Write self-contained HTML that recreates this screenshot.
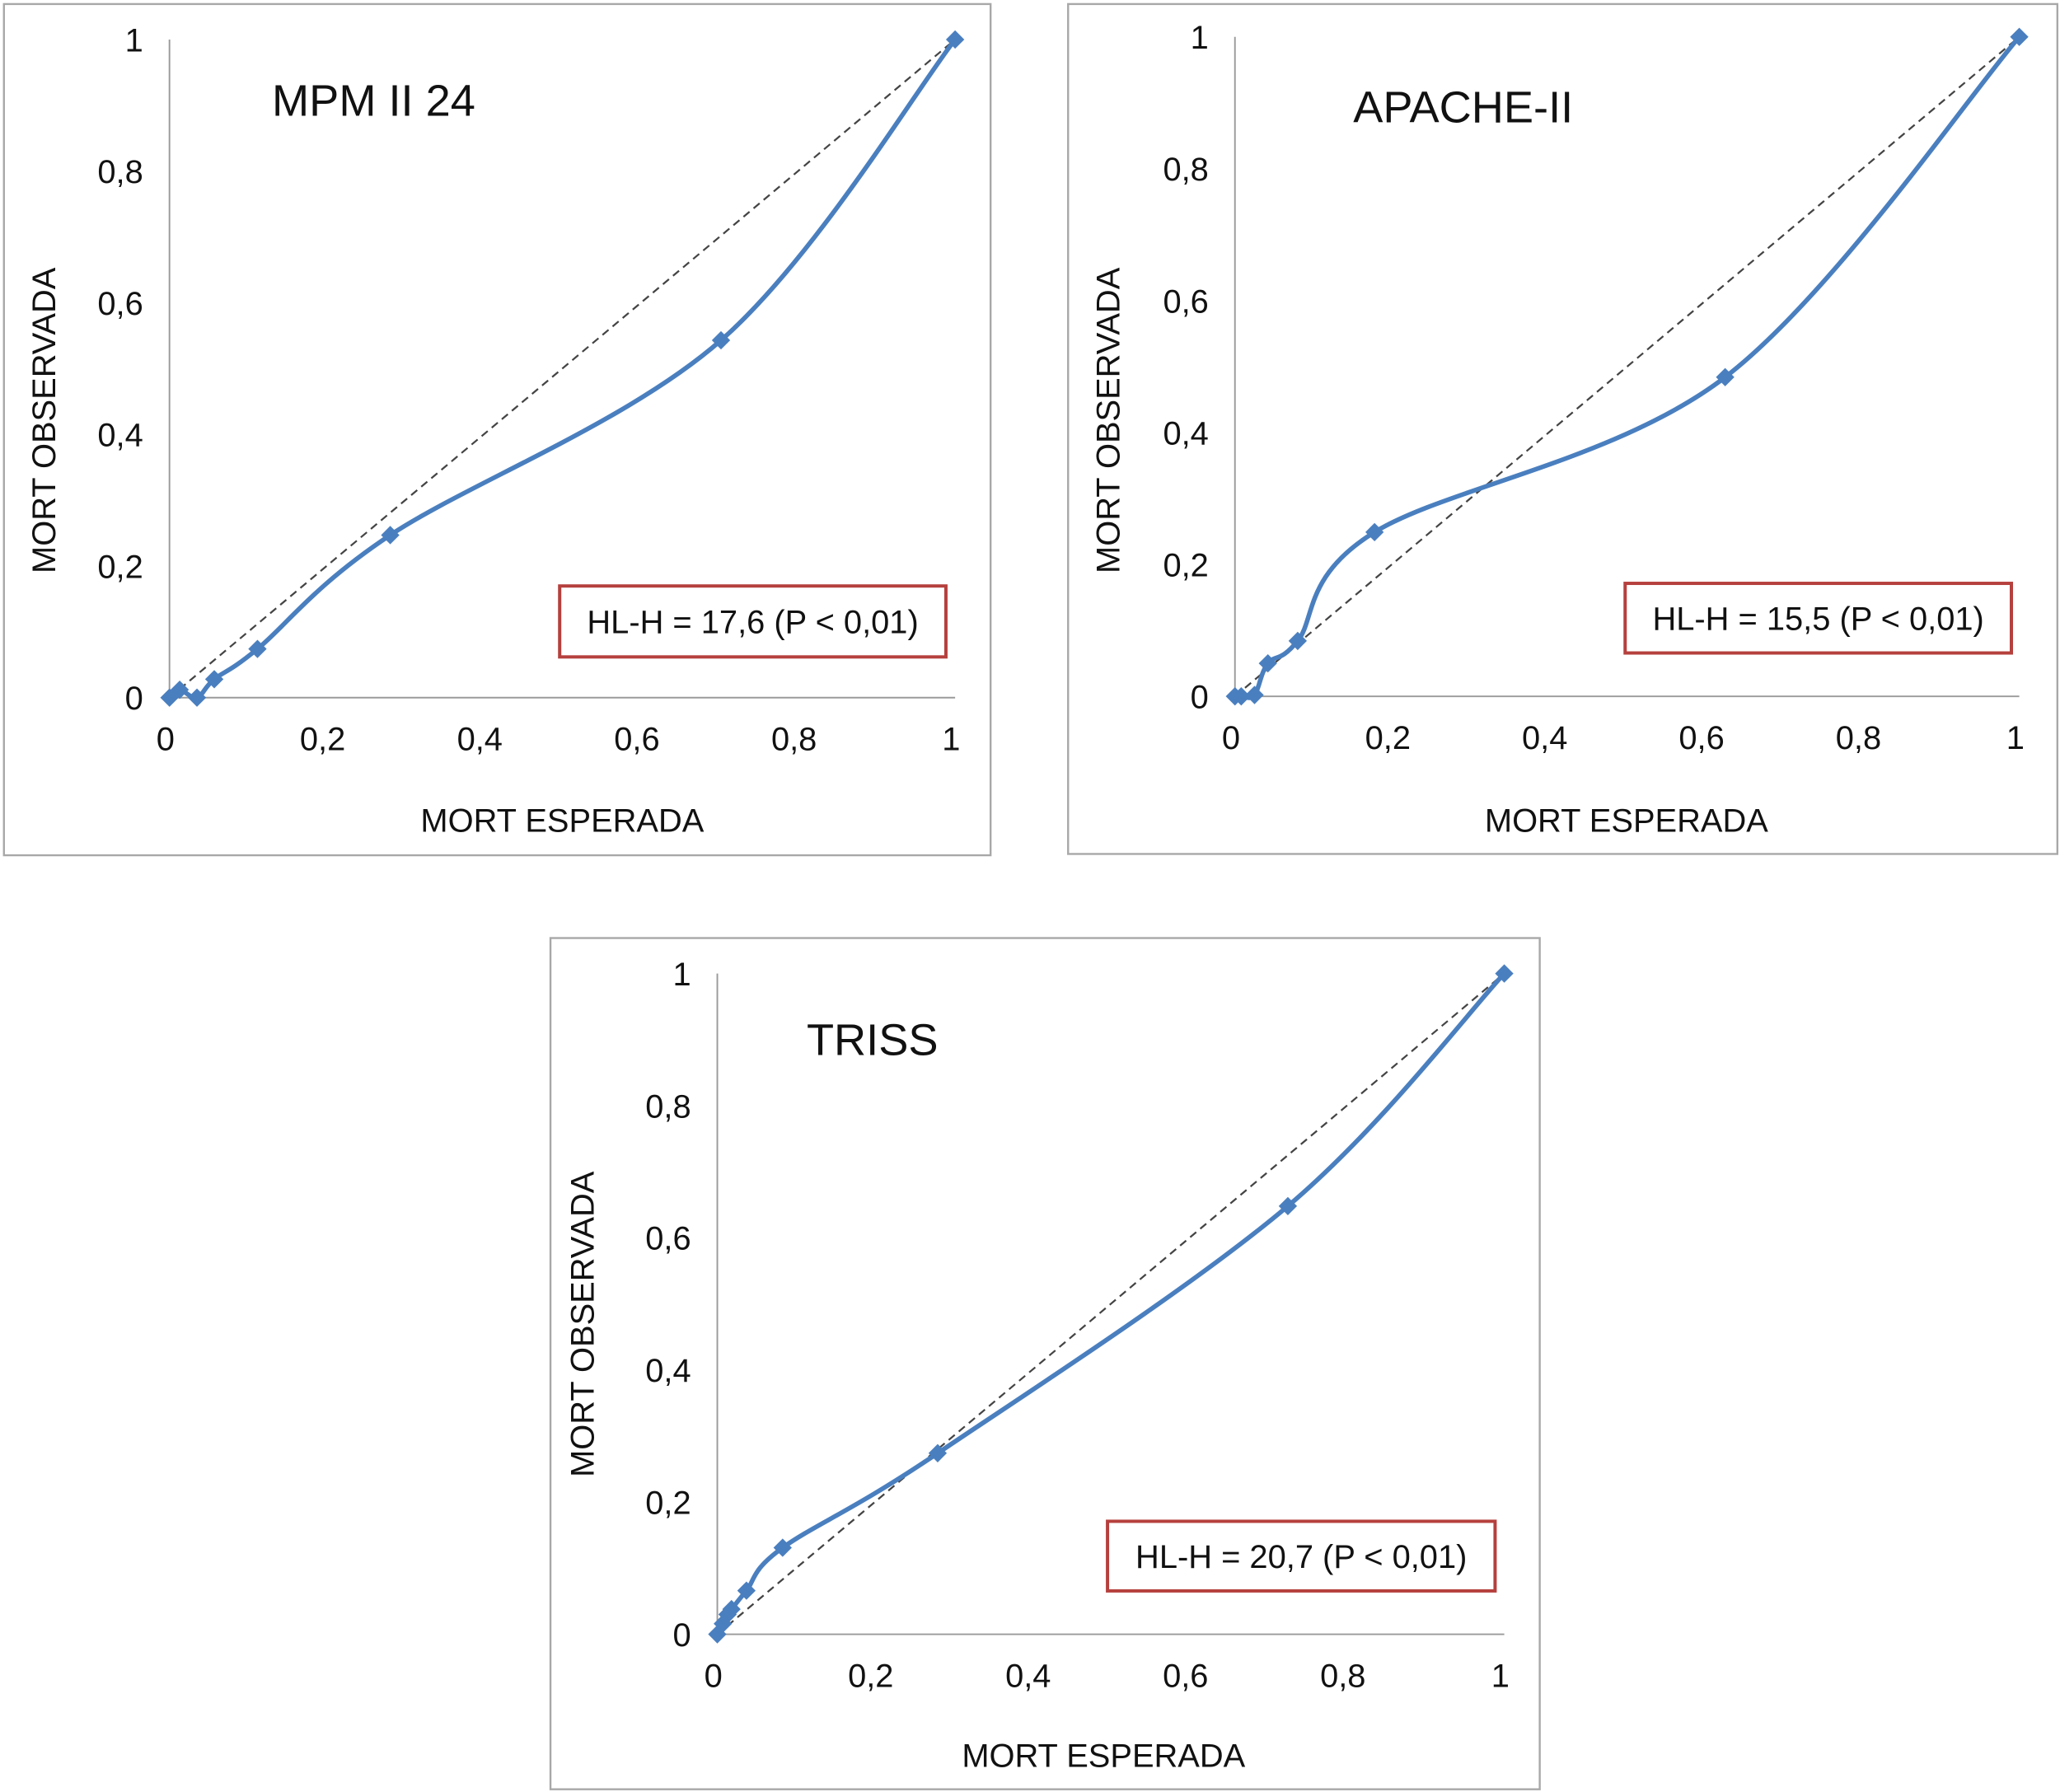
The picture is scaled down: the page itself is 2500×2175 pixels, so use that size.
<!DOCTYPE html>
<html><head><meta charset="utf-8"><style>
html,body{margin:0;padding:0;background:#fff}
svg{display:block}
text{font-family:"Liberation Sans",sans-serif;fill:#111}
</style></head><body>
<svg id="fig" width="2500" height="2175" viewBox="0 0 1568 1364" xmlns="http://www.w3.org/2000/svg"></svg>
<script>
const xTicks = [0, 0.2, 0.4, 0.6, 0.8, 1];
const xTickLabels = ["0", "0,2", "0,4", "0,6", "0,8", "1"];
const yTicks = [0, 0.2, 0.4, 0.6, 0.8, 1];
const yTickLabels = ["0", "0,2", "0,4", "0,6", "0,8", "1"];
const mpmX = [0, 0.013, 0.035, 0.057, 0.112, 0.281, 0.702, 1];
const mpmY = [0, 0.012, 0, 0.028, 0.074, 0.247, 0.543, 1];
const apacheX = [0, 0.008, 0.025, 0.042, 0.08, 0.178, 0.625, 1];
const apacheY = [0, 0, 0.002, 0.05, 0.084, 0.249, 0.484, 1];
const trissX = [0, 0.007, 0.013, 0.018, 0.037, 0.083, 0.28, 0.725, 1];
const trissY = [0, 0.016, 0.03, 0.038, 0.066, 0.131, 0.274, 0.648, 1];
const titles = ["MPM II 24", "APACHE-II", "TRISS"];
const hlLabels = ["HL-H = 17,6 (P < 0,01)", "HL-H = 15,5 (P < 0,01)", "HL-H = 20,7 (P < 0,01)"];

const NS = "http://www.w3.org/2000/svg";
const svg = document.getElementById("fig");
function mk(tag, attrs, parent, txt){
  const e = document.createElementNS(NS, tag);
  for (const k in attrs) e.setAttribute(k, attrs[k]);
  if (txt !== undefined) e.textContent = txt;
  (parent || svg).appendChild(e);
  return e;
}
const layouts = [
  {frame:[3,3,751,648], ax0:129, ax1:727, ay0:531, ay1:30, title:[207,88], box:[426,446,294,54], yt:[33,320], xt:[428,633], name:"mpm"},
  {frame:[813,3,753,647], ax0:940, ax1:1537, ay0:530, ay1:28, title:[1030,93], box:[1237,444,294,53], yt:[843,320], xt:[1238,633], name:"apache"},
  {frame:[419,714,753,648], ax0:546, ax1:1145, ay0:1244, ay1:741, title:[614,803], box:[843,1158,295,53], yt:[443,1008], xt:[840,1345], name:"triss"}
];
const seriesX = [mpmX, apacheX, trissX];
const seriesY = [mpmY, apacheY, trissY];

layouts.forEach((L, i) => {
  const g = mk("g", {});
  
  
  const sx = v => L.ax0 + v * (L.ax1 - L.ax0);
  const sy = v => L.ay0 - v * (L.ay0 - L.ay1);
  const fr = mk("rect", {x:L.frame[0], y:L.frame[1], width:L.frame[2], height:L.frame[3], fill:"#fff", stroke:"#a8a8a8", "stroke-width":1.5}, g);
  
  
  const ya = mk("line", {x1:L.ax0, y1:L.ay1, x2:L.ax0, y2:L.ay0, stroke:"#9a9a9a", "stroke-width":1.2}, g);
  
  
  const xa = mk("line", {x1:L.ax0, y1:L.ay0, x2:L.ax1, y2:L.ay0, stroke:"#9a9a9a", "stroke-width":1.2}, g);
  
  
  yTicks.forEach((v, k) => {
    const t = mk("text", {x:L.ax0 - 20, y:sy(v) + 9, "font-size":25, "text-anchor":"end"}, g, yTickLabels[k]);
    
    
  });
  xTicks.forEach((v, k) => {
    const t = mk("text", {x:sx(v) - 3, y:L.ay0 + 40, "font-size":25, "text-anchor":"middle"}, g, xTickLabels[k]);
    
    
  });
  const tt = mk("text", {x:L.title[0], y:L.title[1], "font-size":34}, g, titles[i]);
  
  
  const yl = mk("text", {x:L.yt[0], y:L.yt[1], "font-size":25, "text-anchor":"middle", transform:"rotate(-90 "+L.yt[0]+" "+L.yt[1]+") translate(0 9)"}, g, "MORT OBSERVADA");
  
  
  const xl = mk("text", {x:L.xt[0], y:L.xt[1], "font-size":25, "text-anchor":"middle"}, g, "MORT ESPERADA");
  
  
  const d = mk("line", {x1:sx(0), y1:sy(0), x2:sx(1), y2:sy(1), stroke:"#444", "stroke-width":1.4, "stroke-dasharray":"6 4"}, g);
  
  
  const X = seriesX[i], Y = seriesY[i];
  const P = X.map((x, k) => [sx(x), sy(Y[k])]);
  let dp = "M" + P[0][0] + " " + P[0][1];
  for (let k = 0; k < P.length - 1; k++) {
    const p0 = P[k-1] || P[k], p1 = P[k], p2 = P[k+1], p3 = P[k+2] || P[k+1];
    const t = 1/6;
    const c1 = [p1[0] + (p2[0]-p0[0])*t, p1[1] + (p2[1]-p0[1])*t];
    const c2 = [p2[0] - (p3[0]-p1[0])*t, p2[1] - (p3[1]-p1[1])*t];
    dp += " C" + c1[0] + " " + c1[1] + " " + c2[0] + " " + c2[1] + " " + p2[0] + " " + p2[1];
  }
  const ln = mk("path", {d:dp, fill:"none", stroke:"#4a7fbf", "stroke-width":3.5, "stroke-linejoin":"round"}, g);
  
  
  P.forEach(p => {
    const m = mk("polygon", {points:[p[0], p[1]-7, p[0]+7, p[1], p[0], p[1]+7, p[0]-7, p[1]].join(" "), fill:"#4a7fbf"}, g);
    
    
  });
  const bx = mk("rect", {x:L.box[0], y:L.box[1], width:L.box[2], height:L.box[3], fill:"#fff", stroke:"#b5403d", "stroke-width":2.5}, g);
  
  
  const ht = mk("text", {x:L.box[0] + L.box[2]/2, y:L.box[1] + L.box[3]/2 + 9, "font-size":25, "text-anchor":"middle"}, g, hlLabels[i]);
  
  
});
</script>
</body></html>
